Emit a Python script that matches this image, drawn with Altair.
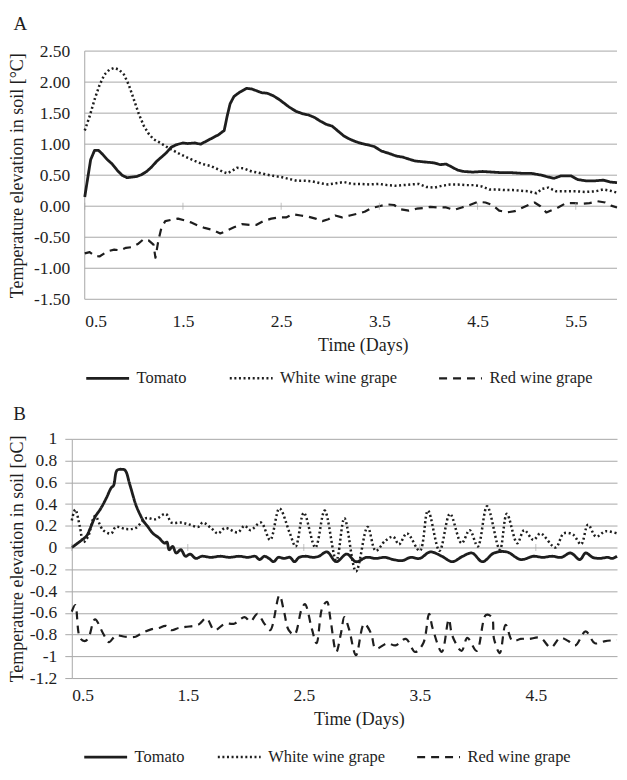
import altair as alt
import pandas as pd

INK = "#1e1e1e"
GRID = "#a8a8a8"
FONT = "Liberation Serif"
SERIES = ["Tomato", "White wine grape", "Red wine grape"]
DASHES = [[1, 0], [2, 2.6], [8, 6]]
WIDTHS = [2.8, 2.2, 3.0]

# ---------------- Panel A ----------------
a_tom_x = [0.50, 0.53, 0.56, 0.60, 0.64, 0.68, 0.73, 0.78, 0.83, 0.88, 0.93, 0.98, 1.03, 1.08, 1.13, 1.18,
           1.23, 1.28, 1.33, 1.38, 1.43, 1.50, 1.55, 1.62, 1.68, 1.74, 1.80, 1.86, 1.92, 1.95, 1.98, 2.02,
           2.08, 2.15, 2.20, 2.25, 2.30, 2.36, 2.42, 2.48, 2.53, 2.58, 2.65, 2.72, 2.78, 2.84, 2.90, 2.96,
           3.02, 3.08, 3.14, 3.20, 3.26, 3.32, 3.38, 3.45, 3.52, 3.60, 3.67, 3.74, 3.80, 3.86, 3.92, 3.98,
           4.05, 4.12, 4.18, 4.24, 4.30, 4.36, 4.45, 4.55, 4.65, 4.75, 4.85, 4.95, 5.05, 5.15, 5.22, 5.28,
           5.35, 5.45, 5.52, 5.60, 5.70, 5.78, 5.85, 5.92]
a_tom_y = [0.15, 0.45, 0.75, 0.90, 0.90, 0.84, 0.75, 0.68, 0.58, 0.50, 0.46, 0.47, 0.48, 0.51, 0.56, 0.63,
           0.72, 0.79, 0.86, 0.95, 0.99, 1.02, 1.01, 1.02, 1.00, 1.05, 1.10, 1.15, 1.22, 1.45, 1.65, 1.77,
           1.84, 1.90, 1.89, 1.86, 1.83, 1.82, 1.78, 1.72, 1.66, 1.60, 1.53, 1.49, 1.47, 1.43, 1.37, 1.32,
           1.29, 1.21, 1.13, 1.08, 1.04, 1.01, 0.99, 0.96, 0.89, 0.85, 0.81, 0.79, 0.76, 0.73, 0.72, 0.71,
           0.70, 0.67, 0.68, 0.63, 0.58, 0.56, 0.55, 0.56, 0.55, 0.54, 0.54, 0.53, 0.53, 0.50, 0.47, 0.45,
           0.49, 0.49, 0.43, 0.41, 0.41, 0.42, 0.39, 0.38]

a_white_x = [0.50, 0.55, 0.60, 0.65, 0.70, 0.75, 0.80, 0.85, 0.90, 0.95, 1.00, 1.05, 1.10, 1.15, 1.20, 1.27,
             1.33, 1.40, 1.47, 1.55, 1.62, 1.70, 1.78, 1.85, 1.90, 1.95, 2.00, 2.05, 2.12, 2.20, 2.27, 2.35,
             2.42, 2.50, 2.58, 2.66, 2.74, 2.82, 2.90, 2.98, 3.06, 3.14, 3.22, 3.30, 3.40, 3.50, 3.58, 3.66,
             3.74, 3.82, 3.90, 3.98, 4.06, 4.14, 4.22, 4.30, 4.38, 4.46, 4.54, 4.62, 4.70, 4.78, 4.86, 4.94,
             5.02, 5.10, 5.16, 5.22, 5.30, 5.40, 5.50, 5.60, 5.70, 5.78, 5.85, 5.92]
a_white_y = [1.22, 1.45, 1.72, 1.95, 2.12, 2.20, 2.23, 2.20, 2.12, 1.95, 1.72, 1.49, 1.30, 1.17, 1.08, 1.02,
             0.96, 0.90, 0.84, 0.78, 0.73, 0.68, 0.65, 0.60, 0.56, 0.53, 0.57, 0.62, 0.61, 0.56, 0.54, 0.51,
             0.49, 0.47, 0.44, 0.41, 0.41, 0.40, 0.37, 0.35, 0.37, 0.39, 0.36, 0.36, 0.35, 0.36, 0.34, 0.33,
             0.34, 0.35, 0.36, 0.31, 0.30, 0.33, 0.35, 0.35, 0.34, 0.34, 0.32, 0.27, 0.27, 0.26, 0.26, 0.25,
             0.24, 0.21, 0.28, 0.30, 0.24, 0.24, 0.24, 0.23, 0.24, 0.27, 0.25, 0.22]

a_red_x = [0.50, 0.55, 0.60, 0.65, 0.70, 0.75, 0.80, 0.86, 0.92, 0.98, 1.04, 1.10, 1.15, 1.20, 1.22, 1.25,
           1.28, 1.32, 1.38, 1.45, 1.52, 1.58, 1.65, 1.72, 1.80, 1.88, 1.95, 2.02, 2.10, 2.18, 2.25, 2.32,
           2.40, 2.48, 2.55, 2.62, 2.70, 2.78, 2.85, 2.92, 2.98, 3.05, 3.12, 3.20, 3.28, 3.35, 3.42, 3.50,
           3.58, 3.65, 3.72, 3.80, 3.88, 3.95, 4.02, 4.10, 4.18, 4.26, 4.34, 4.42, 4.50, 4.58, 4.65, 4.72,
           4.80, 4.88, 4.95, 5.02, 5.08, 5.14, 5.20, 5.26, 5.32, 5.40, 5.48, 5.56, 5.64, 5.72, 5.80, 5.86, 5.92]
a_red_y = [-0.76, -0.74, -0.80, -0.81, -0.76, -0.72, -0.70, -0.71, -0.67, -0.66, -0.61, -0.53, -0.55, -0.62, -0.83, -0.55,
           -0.35, -0.24, -0.22, -0.20, -0.23, -0.26, -0.31, -0.35, -0.38, -0.44, -0.39, -0.34, -0.29, -0.30, -0.30, -0.24,
           -0.20, -0.18, -0.18, -0.13, -0.15, -0.17, -0.20, -0.24, -0.21, -0.15, -0.18, -0.15, -0.12, -0.09, -0.03, 0.00,
           0.03, 0.02, -0.05, -0.07, -0.04, -0.03, -0.01, -0.02, -0.02, -0.06, -0.02, 0.02, 0.07, 0.06, 0.02, -0.07,
           -0.10, -0.08, -0.03, 0.02, 0.06, 0.00, -0.10, -0.06, -0.02, 0.05, 0.05, 0.04, 0.05, 0.08, 0.06, 0.01, -0.02]

a_xticks = [0.5, 1.5, 2.5, 3.5, 4.5, 5.5]
a_yticks = [-1.5, -1.0, -0.5, 0.0, 0.5, 1.0, 1.5, 2.0, 2.5]

# ---------------- Panel B ----------------
b_tom_x = [0.50, 0.55, 0.60, 0.63, 0.66, 0.70, 0.75, 0.80, 0.84, 0.86, 0.89, 0.93, 0.96, 1.00, 1.05, 1.09,
           1.12, 1.15, 1.20, 1.25, 1.30, 1.32, 1.34, 1.37, 1.40, 1.44, 1.48, 1.52, 1.57, 1.62, 1.70, 1.78,
           1.86, 1.94, 2.02, 2.08, 2.12, 2.16, 2.20, 2.24, 2.28, 2.33, 2.38, 2.42, 2.46, 2.52, 2.58, 2.63,
           2.70, 2.78, 2.87, 2.95, 3.04, 3.12, 3.20, 3.27, 3.35, 3.42, 3.50, 3.59, 3.69, 3.78, 3.87, 3.95,
           4.04, 4.14, 4.25, 4.37, 4.48, 4.56, 4.64, 4.72, 4.80, 4.88, 4.93, 4.99, 5.05, 5.12, 5.16, 5.20]
b_tom_y = [0.00, 0.04, 0.08, 0.11, 0.18, 0.28, 0.36, 0.46, 0.55, 0.57, 0.71, 0.72, 0.71, 0.58, 0.40, 0.30,
           0.24, 0.20, 0.13, 0.09, 0.04, 0.05, -0.02, 0.01, -0.05, -0.02, -0.08, -0.06, -0.10, -0.08, -0.09, -0.08,
           -0.09, -0.08, -0.09, -0.08, -0.11, -0.08, -0.10, -0.13, -0.09, -0.10, -0.09, -0.13, -0.09, -0.08, -0.09, -0.08,
           -0.04, -0.13, -0.06, -0.13, -0.09, -0.10, -0.09, -0.11, -0.12, -0.09, -0.10, -0.04, -0.08, -0.13, -0.08, -0.05,
           -0.13, -0.05, -0.04, -0.11, -0.08, -0.09, -0.08, -0.09, -0.05, -0.11, -0.05, -0.09, -0.10, -0.09, -0.10, -0.08]

b_white_x = [0.50, 0.53, 0.57, 0.60, 0.64, 0.70, 0.77, 0.84, 0.88, 0.97, 1.05, 1.14, 1.22, 1.31, 1.36, 1.44,
             1.52, 1.59, 1.63, 1.70, 1.76, 1.82, 1.93, 1.99, 2.04, 2.13, 2.21, 2.29, 2.38, 2.43, 2.50, 2.60,
             2.68, 2.78, 2.85, 2.95, 3.05, 3.12, 3.20, 3.27, 3.32, 3.39, 3.50, 3.57, 3.67, 3.76, 3.86, 3.93,
             4.00, 4.08, 4.19, 4.25, 4.34, 4.40, 4.48, 4.54, 4.67, 4.74, 4.82, 4.89, 4.95, 5.02, 5.10, 5.20]
b_white_y = [0.25, 0.35, 0.19, 0.05, 0.10, 0.29, 0.16, 0.13, 0.19, 0.17, 0.18, 0.27, 0.26, 0.31, 0.23, 0.23,
             0.21, 0.19, 0.23, 0.18, 0.13, 0.18, 0.14, 0.20, 0.16, 0.23, 0.07, 0.36, 0.13, 0.01, 0.32, 0.00,
             0.34, -0.12, 0.27, -0.22, 0.19, -0.03, 0.06, 0.10, 0.03, 0.13, -0.03, 0.34, -0.03, 0.31, 0.04, 0.16,
             0.01, 0.38, -0.02, 0.31, 0.04, 0.16, 0.07, 0.13, 0.00, 0.13, 0.12, 0.03, 0.21, 0.10, 0.15, 0.13]

b_red_x = [0.50, 0.53, 0.57, 0.61, 0.64, 0.70, 0.77, 0.82, 0.88, 0.96, 1.05, 1.10, 1.19, 1.25, 1.31, 1.36,
           1.42, 1.48, 1.59, 1.66, 1.73, 1.82, 1.90, 1.99, 2.04, 2.10, 2.16, 2.21, 2.29, 2.33, 2.37, 2.42,
           2.48, 2.51, 2.57, 2.61, 2.66, 2.70, 2.73, 2.78, 2.82, 2.85, 2.89, 2.95, 3.02, 3.08, 3.12, 3.22,
           3.29, 3.38, 3.46, 3.53, 3.58, 3.61, 3.69, 3.75, 3.78, 3.86, 3.91, 3.99, 4.07, 4.12, 4.14, 4.19,
           4.24, 4.30, 4.37, 4.44, 4.54, 4.63, 4.71, 4.78, 4.84, 4.93, 5.01, 5.10, 5.20]
b_red_y = [-0.59, -0.53, -0.83, -0.86, -0.84, -0.66, -0.79, -0.87, -0.81, -0.82, -0.82, -0.79, -0.75, -0.74, -0.72, -0.76,
           -0.74, -0.73, -0.71, -0.65, -0.76, -0.70, -0.70, -0.64, -0.68, -0.61, -0.70, -0.76, -0.44, -0.59, -0.76, -0.80,
           -0.57, -0.52, -0.75, -0.88, -0.55, -0.50, -0.66, -0.96, -0.79, -0.64, -0.75, -0.99, -0.70, -0.79, -0.93, -0.88,
           -0.90, -0.84, -0.96, -0.88, -0.61, -0.74, -0.96, -0.66, -0.81, -0.95, -0.83, -0.95, -0.62, -0.64, -0.84, -0.97,
           -0.71, -0.86, -0.84, -0.84, -0.83, -0.92, -0.83, -0.86, -0.90, -0.77, -0.88, -0.86, -0.85]

b_xticks = [0.5, 1.5, 2.5, 3.5, 4.5]
b_yticks = [-1.2, -1.0, -0.8, -0.6, -0.4, -0.2, 0.0, 0.2, 0.4, 0.6, 0.8, 1.0]


def frame(parts):
    rows = []
    for name, xs, ys in parts:
        for x, y in zip(xs, ys):
            rows.append({"t": x, "v": y, "s": name})
    return pd.DataFrame(rows)


def panel(df, letter, xdom, ydom, xticks, yticks, fmt, ytitle, w, h, x0, interp,
          lab_pad_x, title_pad_x, title_x, lab_pad_y, title_pad_y, ytick,
          legx, legy, colpad, toff):
    leg = alt.Legend(title=None, orient="none", legendX=legx, legendY=legy,
                     direction="horizontal", symbolType="stroke", symbolSize=1849,
                     symbolStrokeColor=INK, labelFont=FONT, labelFontSize=16.5,
                     labelColor=INK, labelOffset=6, columnPadding=colpad)
    xaxis = alt.Axis(values=xticks, format=".1f", title="Time (Days)", grid=False,
                     domain=False, ticks=False, labelPadding=lab_pad_x,
                     titlePadding=title_pad_x, titleX=title_x)
    own_axis = x0 == 0
    yaxis = alt.Axis(values=yticks,
                     labelExpr="(datum.value < -0.0001 ? '-' : '') + format(abs(datum.value), '" + fmt + "')",
                     title=ytitle, grid=own_axis, gridColor=GRID, domain=own_axis,
                     domainColor=GRID, ticks=own_axis and ytick > 0, tickSize=max(ytick, 1),
                     tickColor=GRID, labelPadding=lab_pad_y, titlePadding=title_pad_y)
    xsc = alt.Scale(domain=xdom, range=[x0, w], nice=False, zero=False)
    ysc = alt.Scale(domain=ydom, nice=False, zero=False)

    layers = []
    if not own_axis:
        grid_df = pd.DataFrame({"t": [xdom[0]] * len(yticks), "t2": [xdom[1]] * len(yticks), "v": yticks})
        layers.append(alt.Chart(grid_df).mark_rule(color=GRID, strokeWidth=1).encode(
            x=alt.X("t:Q", scale=xsc, axis=xaxis), x2="t2:Q",
            y=alt.Y("v:Q", scale=ysc, axis=yaxis)))
        dom_df = pd.DataFrame({"t": [xdom[0]], "v": [ydom[0]], "v2": [ydom[1]]})
        layers.append(alt.Chart(dom_df).mark_rule(color=GRID, strokeWidth=1).encode(
            x=alt.X("t:Q", scale=xsc, axis=xaxis),
            y=alt.Y("v:Q", scale=ysc, axis=yaxis), y2="v2:Q"))

    layers.append(alt.Chart(df).mark_line(interpolate=interp, color=INK, strokeCap="butt",
                                          strokeJoin="round").encode(
        x=alt.X("t:Q", scale=xsc, axis=xaxis),
        y=alt.Y("v:Q", scale=ysc, axis=yaxis),
        strokeDash=alt.StrokeDash("s:N", scale=alt.Scale(domain=SERIES, range=DASHES), legend=leg),
        strokeWidth=alt.StrokeWidth("s:N", scale=alt.Scale(domain=SERIES, range=WIDTHS), legend=leg),
        order=alt.Order("t:Q"),
    ))
    tick_df = pd.DataFrame({"t": xticks, "v": [0.0] * len(xticks)})
    layers.append(alt.Chart(tick_df).mark_tick(orient="vertical", size=7, thickness=1, color=GRID).encode(
        x=alt.X("t:Q", scale=xsc, axis=xaxis), y=alt.Y("v:Q", scale=ysc, axis=yaxis)))
    return alt.layer(*layers).properties(
        width=w, height=h,
        title=alt.TitleParams(letter, anchor="start", frame="bounds", fontSize=19, font=FONT,
                              fontWeight="normal", color=INK, offset=toff, dx=5),
    )


dfA = frame([("Tomato", a_tom_x, a_tom_y), ("White wine grape", a_white_x, a_white_y),
             ("Red wine grape", a_red_x, a_red_y)])
dfB = frame([("Tomato", b_tom_x, b_tom_y), ("White wine grape", b_white_x, b_white_y),
             ("Red wine grape", b_red_x, b_red_y)])

chartA = panel(dfA, "A", [0.5, 5.92], [-1.5, 2.5], a_xticks, a_yticks, ".2f",
               "Temperature elevation in soil [°C]", 547, 249, 13, "linear",
               13, 7, 292, 2, 7, 0, 13, 305, 37, 8)
chartB = panel(dfB, "B", [0.5, 5.2], [-1.2, 1.0], b_xticks, b_yticks, "~g",
               "Temperature elevation in soil [oC]", 547, 240, 0, "catmull-rom",
               9, 6, 288, 8, 3, 7, 11, 296, 27, 6)

chart = alt.vconcat(chartA, chartB, spacing=18).resolve_scale(
    strokeDash="independent", strokeWidth="independent"
).resolve_legend(strokeDash="independent", strokeWidth="independent").properties(
    padding={"left": 0, "top": 6, "right": 0, "bottom": 0}
).configure(
    font=FONT
).configure_axis(
    labelFont=FONT, labelFontSize=17.5, labelColor=INK, titleFont=FONT, titleFontSize=18,
    titleFontWeight="normal", titleColor=INK
).configure_view(stroke=None)

chart.save("out.html", embed_options={"renderer": "svg", "actions": False})
